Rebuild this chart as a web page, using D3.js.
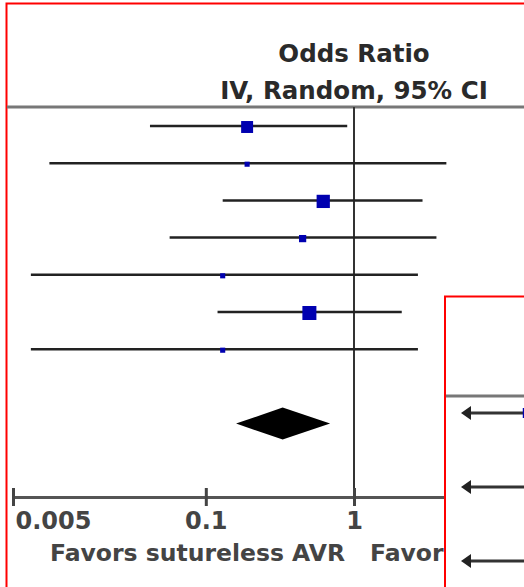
<!DOCTYPE html>
<html>
<head>
<meta charset="utf-8">
<script src="https://cdn.jsdelivr.net/npm/d3@7"></script>
<style>
body { margin: 0; background: #fff; }
svg { display: block; font-family: "DejaVu Sans", Verdana, sans-serif; }
</style>
</head>
<body>
<svg></svg>
<script>
// study rows, top to bottom (odds ratio with 95% CI, random-effects weight in %)
let oddsRatio = [0.19, 0.19, 0.62, 0.45, 0.13, 0.50, 0.13]
let ciLower   = [0.042, 0.0088, 0.13, 0.057, 0.0066, 0.12, 0.0066]
let ciUpper   = [0.90, 4.2, 2.9, 3.6, 2.7, 2.1, 2.7]
let weights   = [17.5, 3.2, 21.5, 6.4, 3.2, 24.0, 3.2]

// pooled estimate: [odds ratio, lower, upper]
let pooled = [0.33, 0.16, 0.69]

let tickValues = [0.005, 0.1, 1]
let tickLabels = ["0.005", "0.1", "1"]
let titleLines = ["Odds Ratio", "IV, Random, 95% CI"]
let favorsLeft = "Favors sutureless AVR"
let favorsRight = "Favors conventional AVR"

// second crop pasted over the lower right corner
let insetOddsRatio = [0.0084, 0.06, 0.04]
let insetLower     = [0.001, 0.001, 0.001]
let insetUpper     = [6, 9, 4]
let insetWeights   = [15, 8, 8]

let width = 524
let height = 587

let svg = d3.select("svg")
            .attr("width", width)
            .attr("height", height)

let xScale = d3.scaleLog()
               .domain([0.005, 200])
               .range([13, 695])

// rows 0..6 are studies, row 8 is the pooled diamond
let yScale = d3.scalePoint()
               .domain(d3.range(9))
               .range([126, 423.6])

let sizeScale = d3.scaleSqrt()
                  .domain([0, d3.max(weights)])
                  .range([0, 14])

let axisY = 497
let headerY = 107
let insetLeft = 445
let lineColor = "#222"
let boxColor = "#0000b0"

let drawPanel = () => {
    svg.append("rect")
       .attr("x", 0).attr("y", 0)
       .attr("width", width).attr("height", height)
       .attr("fill", "#fff")

    // everything under the pasted crop is cut at its left edge
    svg.append("clipPath")
       .attr("id", "main-clip")
       .append("rect")
       .attr("x", 0).attr("y", 0)
       .attr("width", insetLeft).attr("height", height)

    svg.append("rect")
       .attr("x", 6.5).attr("y", 3.5)
       .attr("width", 800).attr("height", 800)
       .attr("fill", "none")
       .attr("stroke", "#f00")
       .attr("stroke-width", 2)
}

let drawTitle = () => {
    svg.selectAll(".title")
       .data(titleLines)
       .enter()
       .append("text")
       .attr("class", "title")
       .attr("x", xScale(1))
       .attr("y", (d, i) => 62 + i * 37)
       .attr("text-anchor", "middle")
       .attr("font-size", 24.5)
       .attr("font-weight", "bold")
       .attr("fill", "#2a2a2a")
       .text(d => d)

    svg.append("line")
       .attr("x1", 7).attr("x2", width)
       .attr("y1", headerY).attr("y2", headerY)
       .attr("stroke", "#777")
       .attr("stroke-width", 3)
}

let drawStudies = () => {
    svg.append("line")
       .attr("x1", xScale(1)).attr("x2", xScale(1))
       .attr("y1", headerY).attr("y2", axisY)
       .attr("stroke", "#333")
       .attr("stroke-width", 2)

    let rows = oddsRatio.map((d, i) => ({or: d, lo: ciLower[i], hi: ciUpper[i], w: weights[i], row: i}))

    svg.selectAll(".ci")
       .data(rows)
       .enter()
       .append("line")
       .attr("class", "ci")
       .attr("x1", d => xScale(d.lo))
       .attr("x2", d => xScale(d.hi))
       .attr("y1", d => yScale(d.row))
       .attr("y2", d => yScale(d.row))
       .attr("stroke", lineColor)
       .attr("stroke-width", 2.5)

    svg.selectAll(".box")
       .data(rows)
       .enter()
       .append("rect")
       .attr("class", "box")
       .attr("x", d => xScale(d.or) - sizeScale(d.w) / 2)
       .attr("y", d => yScale(d.row) - sizeScale(d.w) / 2 + 1)
       .attr("width", d => sizeScale(d.w))
       .attr("height", d => sizeScale(d.w))
       .attr("fill", boxColor)

    let yc = yScale(8)
    let pts = [
        [xScale(pooled[1]), yc],
        [xScale(pooled[0]), yc - 16],
        [xScale(pooled[2]), yc],
        [xScale(pooled[0]), yc + 16]
    ]
    svg.append("path")
       .attr("d", d3.line()(pts) + "Z")
       .attr("fill", "#000")
}

let drawAxis = () => {
    let xAxis = d3.axisBottom(xScale)
                  .tickValues(tickValues)
                  .tickFormat((d, i) => tickLabels[i])
                  .tickSizeOuter(0)

    let g = svg.append("g")
               .attr("clip-path", "url(#main-clip)")
               .append("g")
               .attr("transform", "translate(0," + axisY + ")")
               .call(xAxis)

    g.select(".domain")
     .attr("stroke", "#555")
     .attr("stroke-width", 3)

    g.selectAll(".tick line")
     .attr("y1", -9)
     .attr("y2", 9)
     .attr("stroke", "#444")
     .attr("stroke-width", 3)

    g.selectAll(".tick text")
     .attr("y", 32)
     .attr("dy", null)
     .attr("font-family", "DejaVu Sans, sans-serif")
     .attr("font-size", 24)
     .attr("font-weight", "bold")
     .attr("fill", "#444")
     .attr("text-anchor", (d, i) => i == 0 ? "start" : "middle")
     .attr("dx", (d, i) => i == 0 ? 2 : 0)

    let labels = svg.append("g")
                    .attr("clip-path", "url(#main-clip)")

    labels.append("text")
          .attr("x", xScale(1) - 9)
          .attr("y", 561)
          .attr("text-anchor", "end")
          .attr("font-size", 23.5)
          .attr("font-weight", "bold")
          .attr("fill", "#444")
          .text(favorsLeft)

    labels.append("text")
          .attr("x", xScale(1) + 16)
          .attr("y", 561)
          .attr("font-size", 23.5)
          .attr("font-weight", "bold")
          .attr("fill", "#444")
          .text(favorsRight)
}

let drawInset = () => {
    let inset = svg.append("g")

    inset.append("rect")
         .attr("x", insetLeft).attr("y", 296.5)
         .attr("width", 300).attr("height", 400)
         .attr("fill", "#fff")
         .attr("stroke", "#f00")
         .attr("stroke-width", 2)

    inset.append("line")
         .attr("x1", insetLeft + 1).attr("x2", width)
         .attr("y1", 396).attr("y2", 396)
         .attr("stroke", "#777")
         .attr("stroke-width", 3)

    let insetX = d3.scaleLog()
                   .domain([0.005, 200])
                   .range([461, 1825])
    let insetY = d3.scalePoint()
                   .domain(d3.range(3))
                   .range([413, 561])
    let insetSize = d3.scaleSqrt()
                      .domain([0, d3.max(insetWeights)])
                      .range([0, 10])

    let rows = insetOddsRatio.map((d, i) => ({or: d, lo: insetLower[i], hi: insetUpper[i], w: insetWeights[i], row: i}))
    let xMin = insetX.domain()[0]

    inset.selectAll(".ci")
         .data(rows)
         .enter()
         .append("line")
         .attr("x1", d => insetX(Math.max(d.lo, xMin)) + 5)
         .attr("x2", d => insetX(d.hi))
         .attr("y1", d => insetY(d.row))
         .attr("y2", d => insetY(d.row))
         .attr("stroke", "#333")
         .attr("stroke-width", 3)

    // arrow heads where the interval runs past the axis
    inset.selectAll(".arrow")
         .data(rows.filter(d => d.lo < xMin))
         .enter()
         .append("path")
         .attr("d", d => {
             let x = insetX(xMin), y = insetY(d.row)
             return "M" + x + "," + y + "L" + (x + 10) + "," + (y - 7) + "L" + (x + 10) + "," + (y + 7) + "Z"
         })
         .attr("fill", lineColor)

    inset.selectAll(".box")
         .data(rows)
         .enter()
         .append("rect")
         .attr("x", d => insetX(d.or) - insetSize(d.w) / 2)
         .attr("y", d => insetY(d.row) - insetSize(d.w) / 2)
         .attr("width", d => insetSize(d.w))
         .attr("height", d => insetSize(d.w))
         .attr("fill", boxColor)
}

drawPanel()
drawTitle()
drawStudies()
drawAxis()
drawInset()
</script>
</body>
</html>
